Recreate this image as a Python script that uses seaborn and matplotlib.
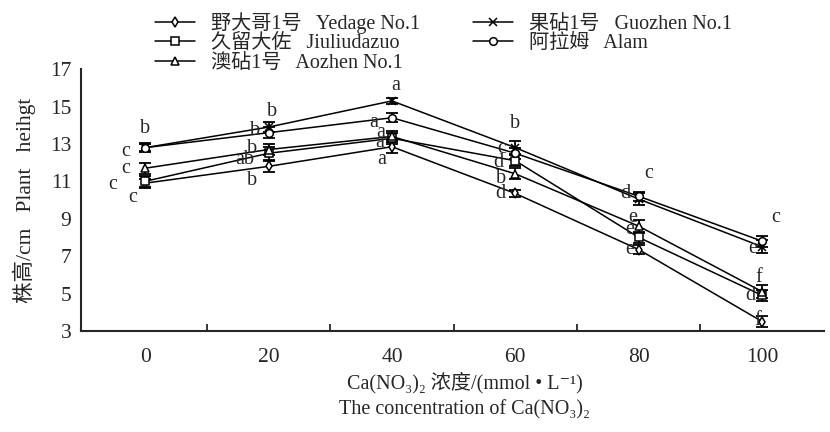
import numpy as np
import pandas as pd
import seaborn as sns
import matplotlib.pyplot as plt

# Ca(NO3)2 concentrations (mmol/L)
conc = [0, 20, 40, 60, 80, 100]

# plant height (cm)
yedage = [10.9, 11.8, 12.85, 10.35, 7.35, 3.5]
jiuliu = [11.0, 12.5, 13.3, 12.1, 8.0, 4.9]
aozhen = [11.7, 12.7, 13.4, 11.4, 8.6, 5.1]
guozhen = [12.8, 13.9, 15.3, 12.8, 10.05, 7.5]
alam = [12.8, 13.6, 14.4, 12.5, 10.2, 7.8]

# standard errors
yedage_err = [0.25, 0.3, 0.35, 0.2, 0.25, 0.3]
jiuliu_err = [0.3, 0.35, 0.3, 0.3, 0.3, 0.3]
aozhen_err = [0.3, 0.3, 0.3, 0.3, 0.35, 0.35]
guozhen_err = [0.25, 0.25, 0.15, 0.35, 0.3, 0.35]
alam_err = [0.2, 0.3, 0.25, 0.3, 0.25, 0.3]

names = ["野大哥1号   Yedage No.1", "久留大佐   Jiuliudazuo", "澳砧1号   Aozhen No.1",
         "果砧1号   Guozhen No.1", "阿拉姆   Alam"]

# significance letters at each concentration
letters = ["b", "c", "c", "c", "c",
           "b", "b", "b", "ab", "b",
           "a", "a", "a", "a", "a",
           "b", "c", "d", "b", "d",
           "c", "d", "e", "e", "e",
           "c", "e", "f", "d", "f"]
letter_x = [0.0, -0.16, -0.16, -0.26, -0.10,
            1.03, 0.89, 0.87, 0.81, 0.87,
            2.03, 1.85, 1.91, 1.90, 1.92,
            3.0, 2.89, 2.86, 2.88, 2.88,
            4.08, 3.89, 3.95, 3.93, 3.93,
            5.11, 4.92, 4.97, 4.90, 4.96]
letter_y = [13.85, 12.62, 11.66, 10.85, 10.11,
            14.76, 13.74, 12.78, 12.14, 11.07,
            16.14, 14.17, 13.63, 13.10, 12.14,
            14.11, 12.78, 12.03, 11.17, 10.37,
            11.44, 10.37, 9.09, 8.40, 7.33,
            9.04, 7.43, 5.83, 4.87, 3.58]

sns.set_style("ticks")
fams = ["Liberation Serif", "Noto Sans CJK SC", "DejaVu Serif"]
plt.rcParams["font.family"] = fams

series = [yedage, jiuliu, aozhen, guozhen, alam]
errs = [yedage_err, jiuliu_err, aozhen_err, guozhen_err, alam_err]
marks = ["d", "s", "^", "x", "o"]

fig = plt.figure(figsize=(8.3, 4.32), dpi=100)
ax = fig.add_axes([0.0976, 0.234, 0.895, 0.606])

idx = np.arange(len(conc))
for name, vals, err, m in zip(names, series, errs, marks):
    df = pd.DataFrame({"x": idx, "y": vals})
    ax.errorbar(idx, vals, yerr=err, fmt="none", ecolor="black", elinewidth=1.3,
                capsize=4, capthick=1.3, zorder=2)
    sns.lineplot(data=df, x="x", y="y", ax=ax, color="black", marker=m, markersize=5.5,
                 markerfacecolor="white", markeredgecolor="black", markeredgewidth=1.1,
                 linewidth=1.1, label=name, zorder=3)

for t, lx, ly in zip(letters, letter_x, letter_y):
    ax.text(lx, ly, t, fontsize=14.5, ha="center", va="center", zorder=4)

ax.set_xlim(-0.52, 5.5)
ax.set_ylim(3, 17)
ax.set_yticks(range(3, 18, 2))
ax.set_xticks(idx)
ax.set_xticklabels([str(c) for c in conc])
ax.set_xticks(idx[:-1] + 0.5, minor=True)
ax.tick_params(axis="x", which="major", length=0, pad=12, labelsize=15.5)
ax.tick_params(axis="x", which="minor", direction="in", length=5, width=1.3)
ax.tick_params(axis="y", length=0, pad=7, labelsize=15.5)
ax.set_xlabel("")
ax.set_ylabel("株高/cm   Plant   heihgt", fontsize=15.5, labelpad=10)
sns.despine(ax=ax)
for s in ["left", "bottom"]:
    ax.spines[s].set_linewidth(1.5)

fig.text(0.56, 0.115, "Ca(NO₃)₂ 浓度/(mmol • L⁻¹)", ha="center", va="center", fontsize=14.5)
fig.text(0.56, 0.052, "The concentration of Ca(NO₃)₂", ha="center", va="center", fontsize=14.5)

ax.legend(loc="upper left", bbox_to_anchor=(0.172, 1.0), bbox_transform=fig.transFigure,
          ncol=2, frameon=False, fontsize=14.5, handlelength=2.0, labelspacing=0.02,
          columnspacing=2.6, handletextpad=0.8, borderpad=0.1)

fig.savefig("out.png", dpi=100)
